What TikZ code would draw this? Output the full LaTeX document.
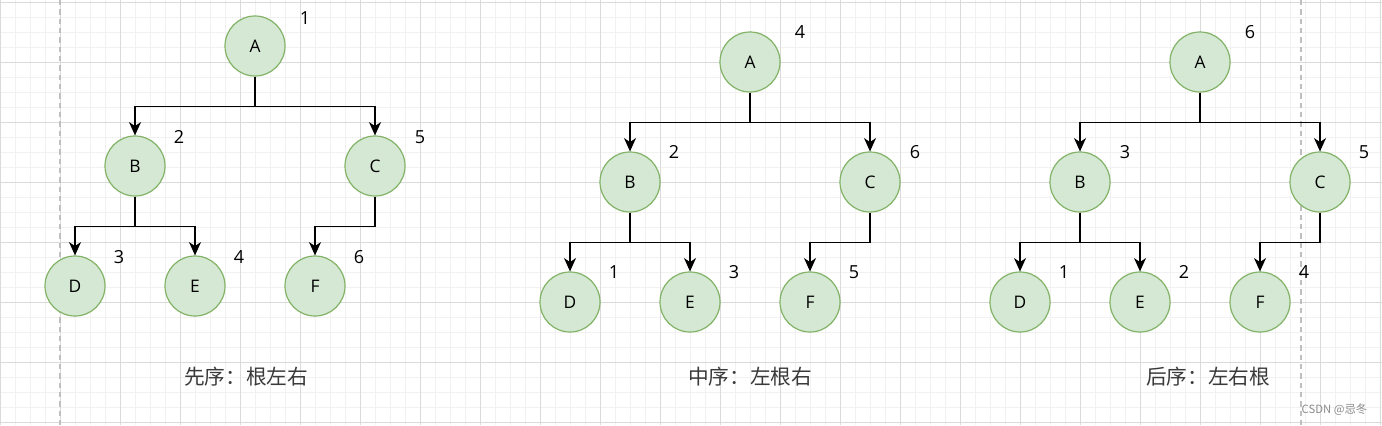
\documentclass[tikz,border=0pt]{standalone}
\usepackage{fontspec}
\setmainfont{Open Sans}
\newfontfamily\cjk{Noto Sans CJK SC}
\usetikzlibrary{arrows.meta}
\definecolor{nodefill}{HTML}{D5E8D4}
\definecolor{nodeline}{HTML}{82B366}
\definecolor{gridmajor}{HTML}{DADADA}
\definecolor{gridminor}{HTML}{F1F1F1}
\definecolor{captext}{HTML}{3A3A3A}
\tikzset{
  vertex/.style={circle, draw=nodeline, fill=nodefill, line width=0.9pt,
    minimum size=45pt, inner sep=0pt, font=\fontsize{13}{13}\selectfont},
  order/.style={font=\fontsize{13.5}{13.5}\selectfont},
  link/.style={-{Stealth[length=10pt,width=9pt,inset=3pt]}, line width=1.1pt},
  caption/.style={font=\cjk\fontsize{15.5}{16}\selectfont, text=captext},
}
\begin{document}
\begin{tikzpicture}[x=0.75pt, y=-0.75pt]
  \useasboundingbox (0,0) rectangle (1382,425);
  \fill[white] (0,0) rectangle (1382,425);
  % grid
  \foreach \x in {0,15,...,1380} \draw[gridminor, line width=0.5pt] (\x,0) -- (\x,425);
  \foreach \y in {2,17,...,425} \draw[gridminor, line width=0.5pt] (0,\y) -- (1382,\y);
  \foreach \x in {0,60,...,1380} \draw[gridmajor, line width=0.6pt] (\x,0) -- (\x,425);
  \foreach \y in {2,62,...,425} \draw[gridmajor, line width=0.6pt] (0,\y) -- (1382,\y);
  \draw[black!25, line width=0.8pt, dash pattern=on 4pt off 3pt] (60,0) -- (60,425);
  \draw[black!25, line width=0.8pt, dash pattern=on 4pt off 3pt] (1301,0) -- (1301,425);

  % preorder
  \node[vertex] (A1) at (255,46) {A};
  \node[vertex] (B1) at (135,166) {B};
  \node[vertex] (C1) at (375,166) {C};
  \node[vertex] (D1) at (75,286) {D};
  \node[vertex] (E1) at (195,286) {E};
  \node[vertex] (F1) at (315,286) {F};
  \draw[link] (A1.south) -- ++(0,30) -| (B1.north);
  \draw[link] (A1.south) -- ++(0,30) -| (C1.north);
  \draw[link] (B1.south) -- ++(0,30) -| (D1.north);
  \draw[link] (B1.south) -- ++(0,30) -| (E1.north);
  \draw[link] (C1.south) -- ++(0,30) -| (F1.north);
  \node[order] (nA1) at (305,18) {1};
  \node[order] (nB1) at (179,137) {2};
  \node[order] (nC1) at (420,137) {5};
  \node[order] (nD1) at (119,257) {3};
  \node[order] (nE1) at (239,257) {4};
  \node[order] (nF1) at (359,257) {6};
  \node[caption] (pre) at (246,377) {先序：根左右};

  % inorder
  \node[vertex] (A2) at (750,62) {A};
  \node[vertex] (B2) at (630,182) {B};
  \node[vertex] (C2) at (870,182) {C};
  \node[vertex] (D2) at (570,302) {D};
  \node[vertex] (E2) at (690,302) {E};
  \node[vertex] (F2) at (810,302) {F};
  \draw[link] (A2.south) -- ++(0,30) -| (B2.north);
  \draw[link] (A2.south) -- ++(0,30) -| (C2.north);
  \draw[link] (B2.south) -- ++(0,30) -| (D2.north);
  \draw[link] (B2.south) -- ++(0,30) -| (E2.north);
  \draw[link] (C2.south) -- ++(0,30) -| (F2.north);
  \node[order] (nA2) at (800,32) {4};
  \node[order] (nB2) at (674,152) {2};
  \node[order] (nC2) at (915,152) {6};
  \node[order] (nD2) at (614,272) {1};
  \node[order] (nE2) at (734,272) {3};
  \node[order] (nF2) at (854,272) {5};
  \node[caption] (in) at (750,377) {中序：左根右};

  % postorder
  \node[vertex] (A3) at (1200,62) {A};
  \node[vertex] (B3) at (1080,182) {B};
  \node[vertex] (C3) at (1320,182) {C};
  \node[vertex] (D3) at (1020,302) {D};
  \node[vertex] (E3) at (1140,302) {E};
  \node[vertex] (F3) at (1260,302) {F};
  \draw[link] (A3.south) -- ++(0,30) -| (B3.north);
  \draw[link] (A3.south) -- ++(0,30) -| (C3.north);
  \draw[link] (B3.south) -- ++(0,30) -| (D3.north);
  \draw[link] (B3.south) -- ++(0,30) -| (E3.north);
  \draw[link] (C3.south) -- ++(0,30) -| (F3.north);
  \node[order] (nA3) at (1250,32) {6};
  \node[order] (nB3) at (1125,152) {3};
  \node[order] (nC3) at (1364,152) {5};
  \node[order] (nD3) at (1064,272) {1};
  \node[order] (nE3) at (1184,272) {2};
  \node[order] (nF3) at (1304,272) {4};
  \node[caption] (post) at (1208,377) {后序：左右根};

  \node[anchor=west, text=black!45, font=\cjk\fontsize{8.5}{9}\selectfont] (mark) at (1297,410) {CSDN @忌冬};
\end{tikzpicture}
\end{document}
